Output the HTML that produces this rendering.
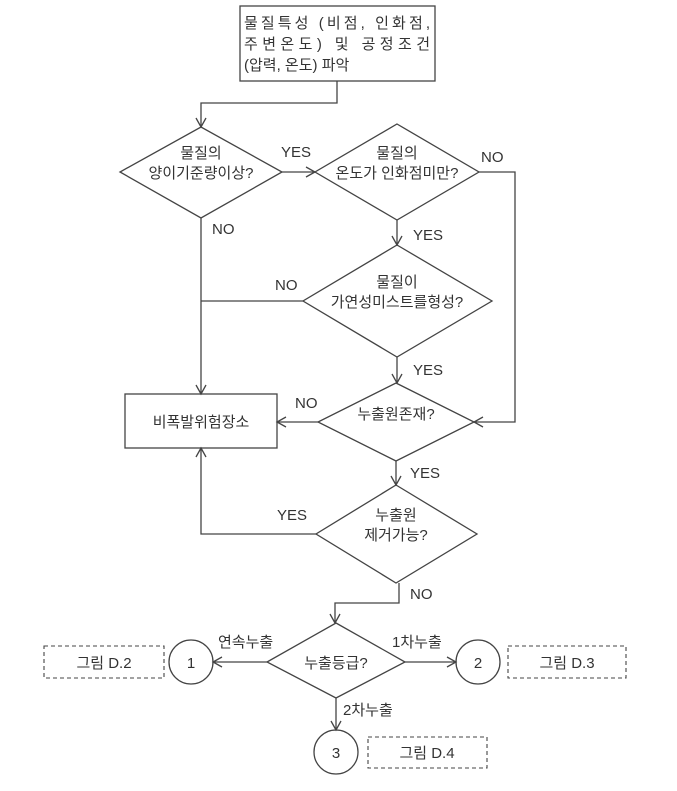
<!DOCTYPE html>
<html><head><meta charset="utf-8"><style>
html,body{margin:0;padding:0;background:#fff;}
svg text{font-family:"Liberation Sans","Noto Sans CJK KR",sans-serif;fill:#333;font-size:15px;}
</style></head><body>
<svg width="677" height="786" viewBox="0 0 677 786" xmlns="http://www.w3.org/2000/svg">
<g fill="none" stroke="#444" stroke-width="1.3">
<rect x="240" y="6" width="195" height="75"/>
<polyline points="337,81 337,103 201,103 201,127"/>
<polyline points="196,118 201,127 206,118"/>
<polygon points="201,127 282,172 201,218 120,172"/>
<line x1="282" y1="172" x2="315" y2="172"/>
<polyline points="306,167 315,172 306,177"/>
<polygon points="397,124 479,172 397,220 315,172"/>
<polyline points="479,172 515,172 515,422 474,422"/>
<polyline points="483,417 474,422 483,427"/>
<line x1="397" y1="220" x2="397" y2="245"/>
<polyline points="392,236 397,245 402,236"/>
<polygon points="397,245 492,301 397,357 303,301"/>
<line x1="303" y1="301" x2="201" y2="301"/>
<line x1="201" y1="218" x2="201" y2="394"/>
<polyline points="196,385 201,394 206,385"/>
<line x1="397" y1="357" x2="397" y2="383"/>
<polyline points="392,374 397,383 402,374"/>
<rect x="125" y="394" width="152" height="54"/>
<polygon points="396,383 474,422 396,461 318,422"/>
<line x1="318" y1="422" x2="277" y2="422"/>
<polyline points="286,417 277,422 286,427"/>
<line x1="396" y1="461" x2="396" y2="485"/>
<polyline points="391,476 396,485 401,476"/>
<polygon points="396,485 477,534 396,583 316,534"/>
<polyline points="316,534 201,534 201,448"/>
<polyline points="196,457 201,448 206,457"/>
<polyline points="399,583 399,603 335,603 335,623"/>
<polyline points="330,614 335,623 340,614"/>
<polygon points="336,623 405,662 336,698 267,662"/>
<line x1="267" y1="662" x2="213" y2="662"/>
<polyline points="222,657 213,662 222,667"/>
<circle cx="191" cy="662" r="22"/>
<line x1="405" y1="662" x2="456" y2="662"/>
<polyline points="447,657 456,662 447,667"/>
<circle cx="478" cy="662" r="22"/>
<line x1="336" y1="698" x2="336" y2="730"/>
<polyline points="331,721 336,730 341,721"/>
<circle cx="336" cy="752" r="22"/>
<g stroke-dasharray="4,3" stroke-width="1.1">
<rect x="44" y="646" width="120" height="32"/>
<rect x="508" y="646" width="118" height="32"/>
<rect x="368" y="737" width="119" height="31"/>
</g>
</g>
<text x="244" y="28" font-size="16.5" textLength="186">물질특성 (비점, 인화점,</text>
<text x="244" y="49" font-size="16.5" textLength="186">주변온도) 및 공정조건</text>
<text x="244" y="70" font-size="16.5">(압력, 온도) 파악</text>
<text x="201" y="158" text-anchor="middle">물질의</text>
<text x="201" y="178" text-anchor="middle">양이기준량이상?</text>
<text x="281" y="157">YES</text>
<text x="397" y="158" text-anchor="middle">물질의</text>
<text x="397" y="178" text-anchor="middle">온도가 인화점미만?</text>
<text x="481" y="162">NO</text>
<text x="212" y="234">NO</text>
<text x="413" y="240">YES</text>
<text x="397" y="287" text-anchor="middle">물질이</text>
<text x="397" y="307" text-anchor="middle">가연성미스트를형성?</text>
<text x="275" y="290">NO</text>
<text x="413" y="375">YES</text>
<text x="201" y="427" text-anchor="middle">비폭발위험장소</text>
<text x="295" y="408">NO</text>
<text x="396" y="419" text-anchor="middle">누출원존재?</text>
<text x="410" y="478">YES</text>
<text x="396" y="520" text-anchor="middle">누출원</text>
<text x="396" y="540" text-anchor="middle">제거가능?</text>
<text x="277" y="520">YES</text>
<text x="410" y="599">NO</text>
<text x="336" y="668" text-anchor="middle">누출등급?</text>
<text x="218" y="647" font-size="14">연속누출</text>
<text x="392" y="647" font-size="14">1차누출</text>
<text x="343" y="715" font-size="14">2차누출</text>
<text x="191" y="668" text-anchor="middle">1</text>
<text x="478" y="668" text-anchor="middle">2</text>
<text x="336" y="758" text-anchor="middle">3</text>
<text x="104" y="668" text-anchor="middle">그림 D.2</text>
<text x="567" y="668" text-anchor="middle">그림 D.3</text>
<text x="427" y="758" text-anchor="middle">그림 D.4</text>
</svg>
</body></html>
